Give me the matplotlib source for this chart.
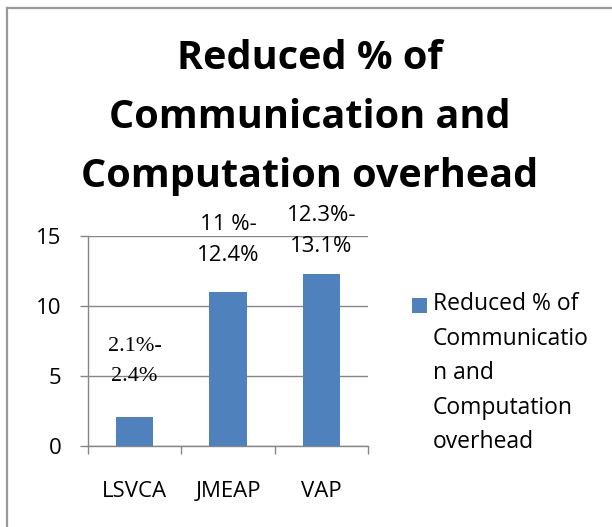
import matplotlib
matplotlib.use("Agg")
import matplotlib.pyplot as plt
from matplotlib.lines import Line2D
from matplotlib.patches import Rectangle

# ---- data ----
categories = ["LSVCA", "JMEAP", "VAP"]
values = [2.1, 11.0, 12.3]
range_labels = ["2.1%-\n2.4%", "11 %-\n12.4%", "12.3%-\n13.1%"]
series_name = "Reduced % of\nCommunicatio\nn and\nComputation\noverhead"
title_text = "Reduced % of\nCommunication and\nComputation overhead"
y_ticks = [0, 5, 10, 15]

W, H = 612, 527
BAR = "#4F81BD"
GRID = "#868686"
SANS = "Open Sans"

fig = plt.figure(figsize=(W / 100, H / 100), dpi=100)
fig.patch.set_facecolor("white")

# outer border (only left and top visible in the reference crop)
fig.add_artist(Line2D([6.5 / W, 6.5 / W], [0, 1 - 7.8 / H], color="#999999", lw=1.6))
fig.add_artist(Line2D([6.5 / W, 1], [1 - 7.8 / H, 1 - 7.8 / H], color="#999999", lw=1.6))

ax = fig.add_axes([88 / W, 81 / H, 280 / W, 210 / H])
x = list(range(len(categories)))
ax.bar(x, values, width=0.4, color=BAR, zorder=3)
ax.set_xlim(-0.5, len(categories) - 0.5)
ax.set_ylim(0, 15)
ax.set_yticks(y_ticks)
ax.set_yticklabels([str(t) for t in y_ticks], fontfamily=SANS, fontsize=16)
ax.yaxis.grid(True, color=GRID, lw=1.0, zorder=0)
ax.set_axisbelow(True)

# category boundary ticks on x axis, labels at centers
ax.set_xticks([i - 0.5 for i in range(len(categories) + 1)])
ax.set_xticklabels([])
ax.set_xticks(x, minor=True)
ax.set_xticklabels(categories, minor=True, fontfamily=SANS, fontsize=16)
ax.tick_params(axis="x", which="major", length=6, width=1.0, color=GRID, direction="out")
ax.tick_params(axis="x", which="minor", length=0, pad=25)
ax.tick_params(axis="y", length=6, width=1.0, color=GRID, pad=13)

for s in ["top", "right"]:
    ax.spines[s].set_visible(False)
for s in ["left", "bottom"]:
    ax.spines[s].set_color(GRID)
    ax.spines[s].set_linewidth(1.0)

# range annotations
ax.text(x[0], 7.8, range_labels[0], ha="center", va="top", fontfamily="Liberation Serif",
        fontsize=16, linespacing=1.8)
ax.text(x[1], 16.55, range_labels[1], ha="center", va="top", fontfamily=SANS,
        fontsize=16, linespacing=1.63)
ax.text(x[2], 17.2, range_labels[2], ha="center", va="top", fontfamily=SANS,
        fontsize=16, linespacing=1.63)

# title
fig.text(310 / W, 1 - 39 / H, title_text, ha="center", va="top", fontfamily=SANS,
         fontweight="bold", fontsize=28.5, linespacing=1.66)

# legend (handle next to first line)
fig.add_artist(Rectangle((412 / W, 1 - 313 / H), 15 / W, 15 / H, facecolor=BAR,
                         edgecolor="none", transform=fig.transFigure))
fig.text(433 / W, 1 - 292.5 / H, series_name, ha="left", va="top", fontfamily=SANS,
         fontsize=16.5, linespacing=1.58)

fig.savefig("out.png", dpi=100)
